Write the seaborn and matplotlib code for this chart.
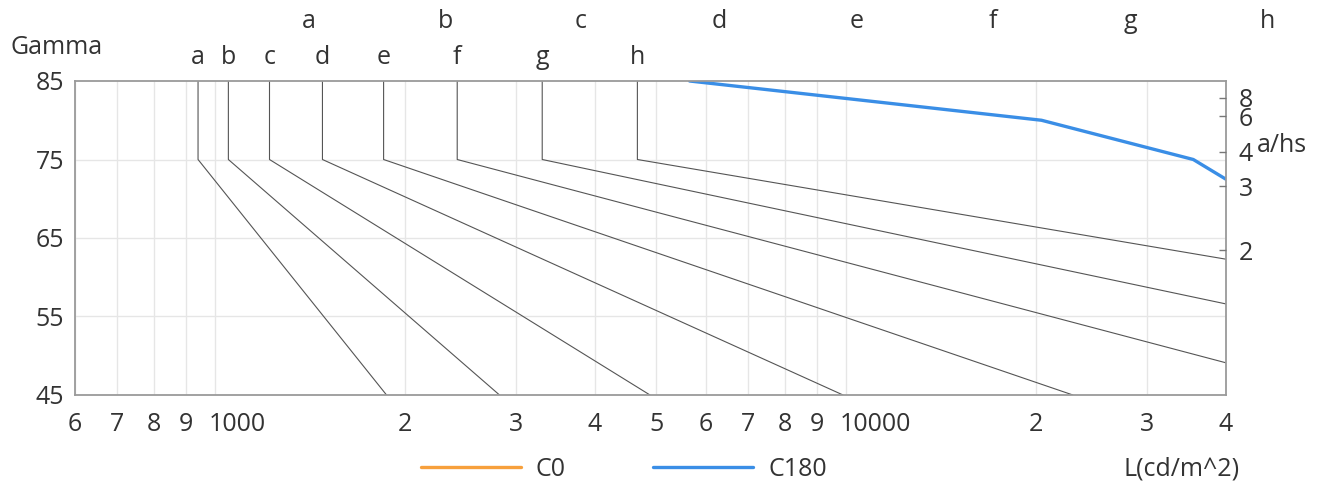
import numpy as np
import pandas as pd
import matplotlib
matplotlib.use("Agg")
import matplotlib.pyplot as plt
import matplotlib.transforms as mtransforms
from matplotlib.lines import Line2D
import seaborn as sns

# ---------------- data ----------------
classes = ["a", "b", "c", "d", "e", "f", "g", "h"]
# luminance where each limit curve leaves the 85-75 vertical part
L_top = [940, 1050, 1220, 1480, 1850, 2420, 3300, 4670]
# end point of each sloped part (L, gamma)
L_end = [1870, 2824, 4890, 9890, 22880, 40000, 40000, 40000]
gamma_end = [45, 45, 45, 45, 45, 49.1, 56.6, 62.3]
# outer row of class letters (positions in L)
top_row_L = [1410, 2320, 3800, 6290, 10380, 17100, 28200, 46500]

# measured luminance curve C180
c180_L = [5650, 20400, 35500, 45000]
c180_gamma = [85, 80, 75, 70]
# C0 curve lies outside the plotted range (legend only)
c0_L = []
c0_gamma = []

ahs_ticks = [2, 3, 4, 6, 8]
x_major = [1000, 10000]
x_ticks = [600, 700, 800, 900, 1000, 2000, 3000, 4000, 5000, 6000, 7000, 8000, 9000,
           10000, 20000, 30000, 40000]
x_labels = ["6", "7", "8", "9", "1000", "2", "3", "4", "5", "6", "7", "8", "9",
            "10000", "2", "3", "4"]
y_ticks = [45, 55, 65, 75, 85]

# ---------------- style ----------------
sns.set_theme(style="white")
plt.rcParams["font.family"] = ["Open Sans", "DejaVu Sans"]
FS = 18
TXT = "#333333"

fig = plt.figure(figsize=(13.24, 4.88), dpi=100)
ax = fig.add_axes([75 / 1324, (488 - 395) / 488, (1226 - 75) / 1324, (395 - 81) / 488])
ax.set_xscale("log")

# limit curves dataframe
rows = []
for c, lt, le, ge in zip(classes, L_top, L_end, gamma_end):
    rows.append({"curve": c, "order": 0, "L": lt, "gamma": 85})
    rows.append({"curve": c, "order": 1, "L": lt, "gamma": 75})
    rows.append({"curve": c, "order": 2, "L": le, "gamma": ge})
lim_df = pd.DataFrame(rows)

sns.lineplot(data=lim_df, x="L", y="gamma", units="curve", estimator=None, sort=False,
             color="#555555", lw=0.8, ax=ax, legend=False)

c180_df = pd.DataFrame({"L": c180_L, "gamma": c180_gamma})
sns.lineplot(data=c180_df, x="L", y="gamma", sort=False, estimator=None,
             color="#3a8ee6", lw=2.4, ax=ax, legend=False)

ax.set_xlim(600, 40000)
ax.set_ylim(45, 85)

# grid
for xv in x_ticks:
    ax.axvline(xv, color="#e6e6e6", lw=1, zorder=0)
for yv in y_ticks[1:-1]:
    ax.axhline(yv, color="#e6e6e6", lw=1, zorder=0)

ax.xaxis.set_minor_locator(matplotlib.ticker.NullLocator())
ax.set_xticks(x_ticks)
ax.set_xticklabels(x_labels)
for lab, v in zip(ax.get_xticklabels(), x_ticks):
    if v in x_major:
        lab.set_horizontalalignment("left")
ax.set_yticks(y_ticks)
ax.tick_params(axis="x", length=0, pad=12, labelsize=FS, colors=TXT)
ax.tick_params(axis="y", length=0, pad=8, labelsize=FS, colors=TXT)
ax.set_xlabel("")
ax.set_ylabel("")
for sp in ax.spines.values():
    sp.set_color("#9a9a9a")
    sp.set_linewidth(1.3)

# shift the 1000 / 10000 labels slightly (left-aligned near their tick)
offset = mtransforms.ScaledTranslation(-6 / 100, 0, fig.dpi_scale_trans)
for lab, v in zip(ax.get_xticklabels(), x_ticks):
    if v in x_major:
        lab.set_transform(lab.get_transform() + offset)

# right axis a/hs
ax2 = ax.twinx()
ax2.set_ylim(45, 85)
ax2.set_yticks(np.degrees(np.arctan(ahs_ticks)))
ax2.set_yticklabels([str(t) for t in ahs_ticks])
ax2.tick_params(axis="y", direction="in", length=5, width=1, color="#777777",
                pad=9, labelsize=FS, colors=TXT)
ax2.tick_params(axis="y", color="#777777")
for sp in ax2.spines.values():
    sp.set_visible(False)
ax2.grid(False)

# top class letters
trans = mtransforms.blended_transform_factory(ax.transData, ax.transAxes)
for c, lt in zip(classes, L_top):
    ax.text(lt, 1.0 + 24 / 314, c, transform=trans, ha="center", va="center",
            fontsize=FS, color=TXT, clip_on=False)
for c, lt in zip(classes, top_row_L):
    ax.text(lt, 1.0 + 59 / 314, c, transform=trans, ha="center", va="center",
            fontsize=FS, color=TXT, clip_on=False)

fig.text(10 / 1324, 1 - 47 / 488, "Gamma", ha="left", va="center", fontsize=FS, color=TXT)
fig.text(1257 / 1324, 1 - 145 / 488, "a/hs", ha="left", va="center", fontsize=FS, color=TXT)
fig.text(1240 / 1324, 1 - 469 / 488, "L(cd/m^2)", ha="right", va="center", fontsize=FS, color=TXT)

# legend
ax.plot(c0_L, c0_gamma, color="#f7a03c", lw=2.4)
handles = [Line2D([], [], color="#f7a03c", lw=2.4), Line2D([], [], color="#3a8ee6", lw=2.4)]
fig.legend(handles, ["C0", "C180"], loc="center", bbox_to_anchor=(624 / 1324, 1 - 469 / 488),
           ncol=2, frameon=False, fontsize=FS, handlelength=4.0, handletextpad=0.6,
           columnspacing=3.5, labelcolor=TXT)

fig.savefig("out.png", dpi=100)
